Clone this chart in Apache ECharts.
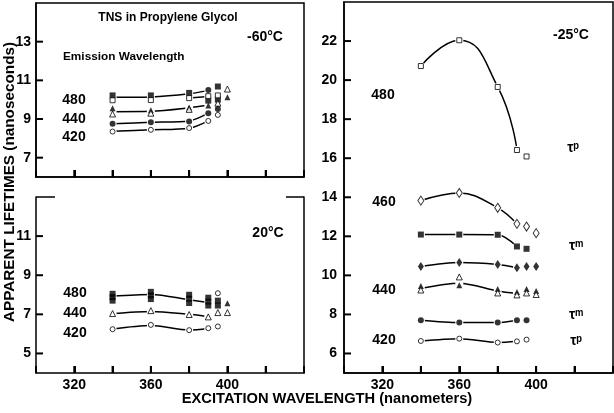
<!DOCTYPE html>
<html>
<head>
<meta charset="utf-8">
<script src="https://cdn.jsdelivr.net/npm/echarts@6/dist/echarts.min.js"></script>
<style>html,body{margin:0;padding:0;background:#fff}#c{width:614px;height:413px}</style>
</head>
<body>
<div id="c"></div>
<script>
// ---- axes / ticks ----
const X_TICKS = [320, 340, 360, 380, 400, 420];
const X_LABELS = [320, 360, 400];
const Y_TICKS_A = [7, 9, 11, 13];          // -60 °C panel
const Y_TICKS_B = [5, 7, 9, 11];           // 20 °C panel
const Y_TICKS_C = [6, 8, 10, 12, 14, 16, 18, 20, 22]; // -25 °C panel

// ---- -60 °C panel (A) ----
const A_sqFilled   = [[340,10.22],[360,10.22],[380,10.35],[390,9.95],[395,10.68],[395,10.0]];
const A_sqOpen     = [[340,9.97],[360,9.98],[380,10.08],[390,10.18],[395,10.22]];
const A_triFilled  = [[340,9.56],[360,9.45],[380,9.6],[390,9.7],[400,10.12]];
const A_triOpen    = [[340,9.26],[360,9.3],[380,9.5],[395,9.82],[400,10.55]];
const A_cirFilled  = [[340,8.75],[360,8.83],[380,8.87],[390,9.3],[390,10.5],[395,9.52]];
const A_cirOpen    = [[340,8.35],[360,8.44],[380,8.53],[390,8.9],[395,9.21]];
const A_line480a   = [[340,10.12],[360,10.14],[380,10.3],[390,10.48]];
const A_line480b   = [[380,10.08],[390,10.16]];
const A_line440    = [[340,9.38],[360,9.4],[380,9.58],[390,9.72]];
const A_line420a   = [[340,8.75],[360,8.83],[380,8.9],[390,9.3]];
const A_line420b   = [[340,8.37],[360,8.44],[380,8.52],[390,8.9]];

// ---- 20 °C panel (B) ----
const B_sqFilled   = [[340,8.05],[340,7.88],[340,7.7],[360,8.15],[360,7.97],[360,7.78],
                      [380,8.0],[380,7.8],[380,7.58],[390,7.85],[390,7.65],[390,7.45],
                      [395,7.7],[395,7.45]];
const B_cirOpenTop = [[395,8.08]];
const B_triFilled  = [[400,7.57]];
const B_triOpen    = [[340,7.04],[360,7.19],[380,6.99],[390,6.87],[395,7.09],[400,7.09]];
const B_cirOpen    = [[340,6.24],[360,6.46],[380,6.19],[390,6.29],[395,6.38]];
const B_line480    = [[340,7.94],[360,8.02],[380,7.75],[390,7.6]];
const B_line440    = [[340,7.04],[360,7.15],[380,7.0],[390,6.88]];
const B_line420    = [[340,6.25],[360,6.43],[380,6.2],[390,6.28]];

// ---- -25 °C panel (C) ----
const C_sqOpen     = [[340,20.72],[360,22.04],[380,19.65],[390,16.42],[395,16.09]];
const C_diaOpen    = [[340,13.83],[360,14.22],[380,13.46],[390,12.64],[395,12.5],[400,12.16]];
const C_sqFilled   = [[340,12.09],[360,12.09],[380,12.08],[390,11.48],[395,11.36]];
const C_diaFilled  = [[340,10.46],[360,10.66],[380,10.56],[390,10.39],[395,10.46],[400,10.46]];
const C_triFilled  = [[340,9.45],[360,9.5],[380,9.3],[390,9.15],[395,9.3],[400,9.2]];
const C_triOpen    = [[340,9.25],[360,9.92],[380,9.1],[390,9.0],[395,9.1],[400,9.02]];
const C_cirFilled  = [[340,7.7],[360,7.58],[380,7.58],[390,7.7],[395,7.7]];
const C_cirOpen    = [[340,6.64],[360,6.76],[380,6.56],[390,6.62],[395,6.71]];
const C_line480    = [[340,20.72],[360,22.04],[380,19.65],[390,16.42]];
const C_line460    = [[340,13.83],[360,14.22],[380,13.46],[390,12.64]];
const C_lineSq     = [[340,12.09],[360,12.09],[380,12.08],[390,11.48]];
const C_lineDia    = [[340,10.46],[360,10.66],[380,10.56],[390,10.39]];
const C_line440    = [[340,9.33],[360,9.6],[380,9.2],[390,9.07]];
const C_lineCirF   = [[340,7.7],[360,7.58],[380,7.58],[390,7.7]];
const C_lineCirO   = [[340,6.64],[360,6.76],[380,6.56],[390,6.62]];

const FONT = 'Liberation Sans';
const BLACK = '#000';
const X_MIN = 300, X_MAX = 440;
const Y_RANGES = [[6, 15], [4, 13], [5, 24]];

const grids = [
  { left: 36, top: 3, width: 268, height: 174, show: true, borderColor: BLACK, borderWidth: 1.5 },
  { left: 36, top: 197, width: 268, height: 176 },
  { left: 344, top: 2, width: 269, height: 371, show: true, borderColor: BLACK, borderWidth: 1.5 }
];

function xAxis(gi, showLabels) {
  return {
    type: 'value', gridIndex: gi, min: X_MIN, max: X_MAX, interval: 20,
    axisLine: { show: true, onZero: false, lineStyle: { color: BLACK, width: 1.5 } },
    axisTick: { show: true, inside: true, length: 7, lineStyle: { color: BLACK, width: 2 } },
    axisLabel: { show: showLabels, customValues: X_LABELS, color: BLACK, fontFamily: FONT, fontWeight: 'bold', fontSize: 14, margin: 5 },
    splitLine: { show: false }
  };
}
function yAxis(gi, ticks, margin) {
  return {
    type: 'value', gridIndex: gi, min: Y_RANGES[gi][0], max: Y_RANGES[gi][1], interval: 1,
    axisLine: { show: true, onZero: false, lineStyle: { color: BLACK, width: 1.5 } },
    axisTick: { show: false },
    axisLabel: { show: true, customValues: ticks, color: BLACK, fontFamily: FONT, fontWeight: 'bold', fontSize: 14, margin: margin },
    splitLine: { show: false }
  };
}
function marks(gi, data, symbol, filled, size) {
  return {
    type: 'scatter', xAxisIndex: gi, yAxisIndex: gi, data: data, symbol: symbol, symbolSize: size,
    itemStyle: filled ? { color: BLACK } : { color: '#fff', borderColor: BLACK, borderWidth: 1 },
    z: 4, silent: true
  };
}
function curve(gi, data, smooth) {
  return {
    type: 'line', xAxisIndex: gi, yAxisIndex: gi, data: data, smooth: smooth,
    symbol: 'circle', symbolSize: 8, showSymbol: true,
    itemStyle: { color: '#fff', borderWidth: 0 },
    lineStyle: { color: BLACK, width: 1.5 },
    z: 2, silent: true
  };
}
// inside tick marks drawn as short segments through the panel's own scales
function tickSeries(gi, yTicks) {
  const out = [];
  const yLen = 7 * (Y_RANGES[gi][1] - Y_RANGES[gi][0]) / grids[gi].height;
  const xLen = 7 * (X_MAX - X_MIN) / grids[gi].width;
  const y0 = Y_RANGES[gi][0];
  X_TICKS.forEach(v => out.push([[v, y0], [v, y0 + yLen]]));
  yTicks.forEach(v => out.push([[X_MIN, v], [X_MIN + xLen, v]]));
  return out.map(seg => ({
    type: 'line', xAxisIndex: gi, yAxisIndex: gi, data: seg, showSymbol: false, symbol: 'none',
    lineStyle: { color: BLACK, width: 2 }, z: 6, silent: true
  }));
}

const yBright = {
  type: 'value', gridIndex: 1, min: 4, max: 13, position: 'right',
  axisLine: { show: true, lineStyle: { color: BLACK, width: 1.5 } },
  axisTick: { show: false }, axisLabel: { show: false }, splitLine: { show: false }
};

function txt(t, x, y, align, size) {
  return { type: 'text', x: x, y: y, style: { text: t, fill: BLACK, font: 'bold ' + size + 'px "' + FONT + '"', align: align, verticalAlign: 'middle' } };
}

const option = {
  animation: false,
  backgroundColor: '#fff',
  grid: grids,
  xAxis: [xAxis(0, false), xAxis(1, true), xAxis(2, true)],
  yAxis: [yAxis(0, Y_TICKS_A, 5), yAxis(1, Y_TICKS_B, 5), yAxis(2, Y_TICKS_C, 7), yBright],
  series: [].concat(
    tickSeries(0, Y_TICKS_A), tickSeries(1, Y_TICKS_B), tickSeries(2, Y_TICKS_C),
    [
    // A
    curve(0, A_line480a, 0.3), curve(0, A_line480b, 0), curve(0, A_line440, 0.3),
    curve(0, A_line420a, 0.3), curve(0, A_line420b, 0.3),
    marks(0, A_sqFilled, 'rect', true, 6), marks(0, A_sqOpen, 'rect', false, 5),
    marks(0, A_triFilled, 'triangle', true, 6), marks(0, A_triOpen, 'triangle', false, 6),
    marks(0, A_cirFilled, 'circle', true, 6), marks(0, A_cirOpen, 'circle', false, 5),
    // B
    curve(1, B_line480, 0.3), curve(1, B_line440, 0.3), curve(1, B_line420, 0.3),
    marks(1, B_sqFilled, 'rect', true, 6), marks(1, B_cirOpenTop, 'circle', false, 5),
    marks(1, B_triFilled, 'triangle', true, 6), marks(1, B_triOpen, 'triangle', false, 6),
    marks(1, B_cirOpen, 'circle', false, 5),
    // C
    curve(2, C_line480, 0.5), curve(2, C_line460, 0.4), curve(2, C_lineSq, 0.3),
    curve(2, C_lineDia, 0.3), curve(2, C_line440, 0.3), curve(2, C_lineCirF, 0.3), curve(2, C_lineCirO, 0.3),
    marks(2, C_sqOpen, 'rect', false, 5), marks(2, C_diaOpen, 'diamond', false, [6, 9]),
    marks(2, C_sqFilled, 'rect', true, 6), marks(2, C_diaFilled, 'diamond', true, [6, 9]),
    marks(2, C_triFilled, 'triangle', true, 6), marks(2, C_triOpen, 'triangle', false, 6),
    marks(2, C_cirFilled, 'circle', true, 6), marks(2, C_cirOpen, 'circle', false, 5)
    ]),
  graphic: [
    // partial top border of the 20 °C panel
    { type: 'line', shape: { x1: 36, y1: 197, x2: 55, y2: 197 }, style: { stroke: BLACK, lineWidth: 1.5 } },
    { type: 'line', shape: { x1: 286, y1: 197, x2: 304, y2: 197 }, style: { stroke: BLACK, lineWidth: 1.5 } },
    // texts
    txt('TNS in Propylene Glycol', 168, 18, 'center', 12),
    txt('-60°C', 265, 37, 'center', 14),
    txt('Emission Wavelength', 63, 57, 'left', 11.8),
    txt('480', 74, 100, 'center', 14), txt('440', 74, 119, 'center', 14), txt('420', 74, 137, 'center', 14),
    txt('20°C', 268, 233, 'center', 14),
    txt('480', 75, 293, 'center', 14), txt('440', 75, 313, 'center', 14), txt('420', 75, 333, 'center', 14),
    txt('-25°C', 571, 35, 'center', 14),
    txt('480', 383, 95, 'center', 14), txt('460', 384, 202, 'center', 14),
    txt('440', 384, 290, 'center', 14), txt('420', 384, 340, 'center', 14),
    txt('τᵖ', 573, 148, 'center', 14), txt('τᵐ', 576, 246, 'center', 14),
    txt('τᵐ', 576, 315, 'center', 14), txt('τᵖ', 576, 341, 'center', 14),
    txt('EXCITATION WAVELENGTH (nanometers)', 327, 399, 'center', 14.7),
    { type: 'text', x: 10, y: 182, rotation: Math.PI / 2,
      style: { text: 'APPARENT LIFETIMES (nanoseconds)', fill: BLACK, font: 'bold 15.3px "' + FONT + '"', align: 'center', verticalAlign: 'middle' } }
  ]
};
const chart = echarts.init(document.getElementById('c'), null, { renderer: 'canvas' });
chart.setOption(option);
</script>
</body>
</html>
